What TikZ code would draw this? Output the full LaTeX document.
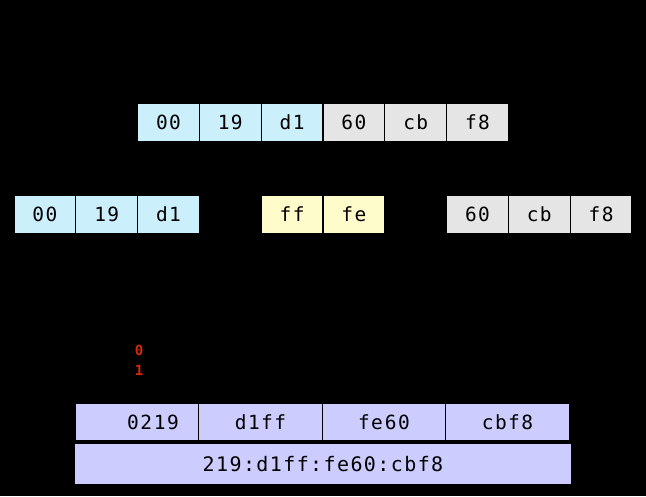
\documentclass[tikz,border=0pt]{standalone}
\usepackage{fontspec}
\setmonofont[LetterSpace=7]{DejaVu Sans Mono}
\usetikzlibrary{positioning}
\definecolor{bitred}{RGB}{214,40,12}

\begin{document}
\begin{tikzpicture}[x=1pt,y=-1pt,
  font=\ttfamily\fontsize{19.5}{21}\selectfont,
  node distance=0pt,
  cell/.style={draw=black,line width=1.2pt,outer sep=0pt,inner sep=0pt,minimum width=61.8pt,minimum height=39pt},
  pre/.style={cell,fill=cyan!20},
  suf/.style={cell,fill=gray!20},
  ins/.style={cell,fill=yellow!20},
  grp/.style={cell,fill=blue!20,minimum width=123.5pt,minimum height=38pt},
  bitlbl/.style={inner sep=0pt,text=bitred,font=\ttfamily\bfseries\fontsize{14}{15}\selectfont}]

\fill[black] (0,0) rectangle (646,496);

% MAC address
\node[pre] (m1) at (168.5,122.5) {00};
\node[pre,right=of m1] (m2) {19};
\node[pre,right=of m2] (m3) {d1};
\node[suf,right=of m3] (m4) {60};
\node[suf,right=of m4] (m5) {cb};
\node[suf,right=of m5] (m6) {f8};

% split and insert ff fe
\node[pre] (s1) at (44.9,214.5) {00};
\node[pre,right=of s1] (s2) {19};
\node[pre,right=of s2] (s3) {d1};
\node[ins,right=61.8pt of s3] (f1) {ff};
\node[ins,right=of f1] (f2) {fe};
\node[suf,right=61.8pt of f2] (s4) {60};
\node[suf,right=of s4] (s5) {cb};
\node[suf,right=of s5] (s6) {f8};

% flip the U/L bit
\node[bitlbl] (b0) at (139,350) {0};
\node[bitlbl,below=10pt of b0] (b1) {1};

% interface identifier
\node[grp] (g1) at (137,422) {\hspace*{32pt}02\kern2pt19};
\node[grp,right=of g1] (g2) {d1ff};
\node[grp,right=of g2] (g3) {fe\kern2pt60};
\node[grp,right=of g3] (g4) {cbf8};
\node[cell,fill=blue!20,minimum width=498pt,minimum height=42pt,font=\ttfamily\fontsize{20}{22}\selectfont] (iid) at (323,464) {219:d1ff:fe60:cbf8};
\end{tikzpicture}
\end{document}
